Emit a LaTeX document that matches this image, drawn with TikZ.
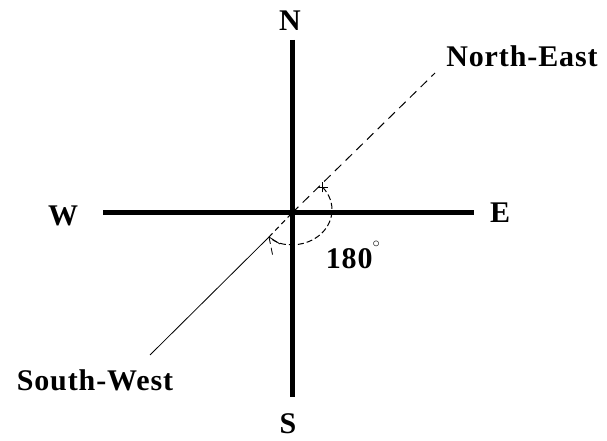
\documentclass[tikz,border=0pt]{standalone}
\usepackage{fontspec}
\setmainfont{Liberation Serif}
\usetikzlibrary{arrows.meta,calc}
\tikzset{
  axisline/.style={line width=5pt},
  dirlabel/.style={font=\fontsize{30}{34}\selectfont\bfseries\addfontfeatures{LetterSpace=3}, inner sep=0pt},
  guide/.style={line width=1pt, dash pattern=on 9pt off 6pt}
}
\begin{document}
\begin{tikzpicture}[x=1pt,y=1pt,>=Latex]
  \useasboundingbox (0,0) rectangle (607,441);
  % centre and ends of the axes
  \coordinate (O) at (292,228);
  \coordinate (top) at (292,401);
  \coordinate (bot) at (292,44);
  \coordinate (lft) at (103,228);
  \coordinate (rgt) at (474,228);
  \draw[axisline] (top) -- (bot);
  \draw[axisline] (lft) -- (rgt);

  \node[dirlabel] (n) at (290,420) {N};
  \node[dirlabel] (s) at (288,17) {S};
  \node[dirlabel] (w) at (63,225) {W};
  \node[dirlabel] (e) at (500,228) {E};
  \node[dirlabel] (ne) at (522,385) {North-East};
  \node[dirlabel] (sw) at (95,61) {South-West};
  \node[dirlabel] (deg) at (353,186) {180\raisebox{0.45em}{\fontsize{20}{20}\selectfont$^\circ$}};

  % the two diagonals
  \coordinate (neend) at (435,368);
  \coordinate (swend) at (150,86);
  \coordinate (astart) at ($(O)+(40:40)$);
  \coordinate (aend) at (269,204);
  \draw[guide] (O) -- (neend);
  \draw[line width=0.8pt] (swend) -- (aend);
  \draw[guide,dash pattern=on 5pt off 4pt] (aend) -- (O);

  % the turn of 180 degrees
  \draw[line width=1pt, dash pattern=on 6pt off 3pt]
    (astart) arc[start angle=40, end angle=-90, x radius=40, y radius=35]
    to[out=180,in=-40] (aend);
  \draw[line width=0.8pt] (aend) -- ++(11,-7);
  \draw[line width=0.8pt, dash pattern=on 7pt off 4pt] (aend) -- ++(4,-20);
  \draw[line width=0.8pt] ($(astart)+(-5,0)$) -- ++(10,0);
  \draw[line width=0.8pt] ($(astart)+(0,-5)$) -- ++(0,10);
\end{tikzpicture}
\end{document}
